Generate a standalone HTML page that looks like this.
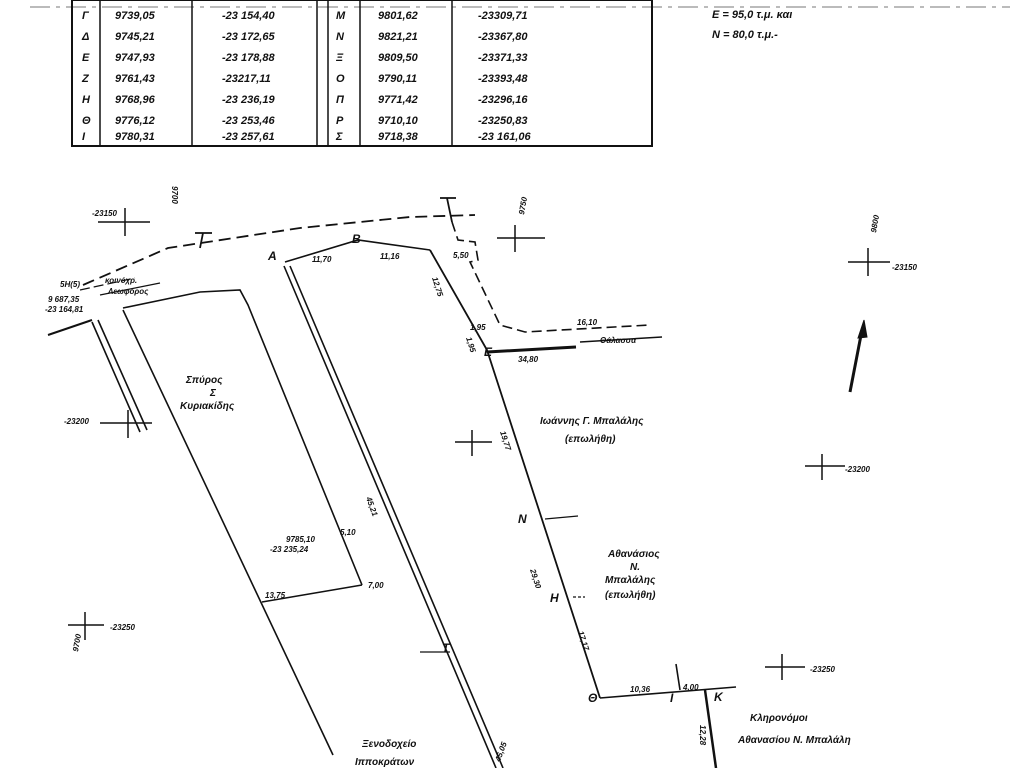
<!DOCTYPE html>
<html><head><meta charset="utf-8"><style>
html,body{margin:0;padding:0;background:#fff}
svg{display:block}
text{font-family:"Liberation Sans","DejaVu Sans",sans-serif;font-style:italic;fill:#111}
.t{font-size:11px;font-weight:bold}
.s{font-size:8px;font-weight:bold}
</style></head><body>
<svg width="1024" height="768" viewBox="0 0 1024 768" xmlns="http://www.w3.org/2000/svg">
<g stroke="#111" fill="none">
<!-- top header dashed -->
<line x1="30" y1="7" x2="1010" y2="7" stroke-width="1" stroke-dasharray="20,6,4,6" stroke="#777"/>
<!-- table -->
<rect x="72" y="0" width="580" height="146" stroke-width="2"/>
<line x1="100" y1="0" x2="100" y2="146" stroke-width="1.5"/>
<line x1="192" y1="0" x2="192" y2="146" stroke-width="1.5"/>
<line x1="317" y1="0" x2="317" y2="146" stroke-width="1.5"/>
<line x1="328" y1="0" x2="328" y2="146" stroke-width="1.5"/>
<line x1="360" y1="0" x2="360" y2="146" stroke-width="1.5"/>
<line x1="452" y1="0" x2="452" y2="146" stroke-width="1.5"/>

<!-- crosses -->
<g stroke-width="1.5">
<path d="M98 222 H150 M125 208 V236"/>
<path d="M497 238 H545 M515 225 V252"/>
<path d="M848 262 H890 M868 248 V276"/>
<path d="M100 423 H152 M128 410 V438"/>
<path d="M455 442 H492 M472 430 V456"/>
<path d="M805 466 H845 M822 454 V480"/>
<path d="M68 625 H104 M85 612 V640"/>
<path d="M765 667 H805 M782 654 V680"/>
</g>

<!-- dashed road boundary -->
<polyline points="83,285 168,248 300,228 410,217 475,215" stroke-width="1.8" stroke-dasharray="12,6"/>
<line x1="80" y1="290" x2="135" y2="278" stroke-width="1.2" stroke-dasharray="10,4"/>
<line x1="100" y1="295" x2="160" y2="283" stroke-width="1.2"/>
<!-- T markers -->
<path d="M195 233 H212 M203 233 L200 248" stroke-width="1.8"/>
<path d="M440 198 H456 M447 198 L452 222" stroke-width="1.8"/>

<!-- A-B-spo -->
<polyline points="285,262 358,240 430,250" stroke-width="1.6"/>
<!-- right boundary -->
<polyline points="430,250 487,350 600,698" stroke-width="1.8"/>
<!-- road to sea, dashed -->
<polyline points="452,222 458,240 475,242 478,260 470,262 500,325 525,332 650,325" stroke-width="1.6" stroke-dasharray="10,5"/>
<line x1="580" y1="342" x2="662" y2="337" stroke-width="1.5"/>
<line x1="487" y1="352" x2="576" y2="347" stroke-width="3"/>
<!-- bottom Θ-Ι-Κ -->
<polyline points="600,698 736,687" stroke-width="1.6"/>
<line x1="676" y1="664" x2="680" y2="690" stroke-width="1.6"/>
<line x1="705" y1="690" x2="716" y2="768" stroke-width="2.5"/>
<!-- small arrow ticks -->
<line x1="545" y1="519" x2="578" y2="516" stroke-width="1.2"/>
<line x1="573" y1="597" x2="585" y2="597" stroke-width="1.2" stroke-dasharray="3,2"/>

<!-- double line from A -->
<line x1="284" y1="266" x2="496" y2="768" stroke-width="1.6"/>
<line x1="290" y1="266" x2="503" y2="768" stroke-width="1.6"/>
<line x1="420" y1="652" x2="450" y2="652" stroke-width="1.2"/>
<!-- Spyros parcel -->
<polyline points="123,308 200,292 240,290 248,305 362,585" stroke-width="1.6"/>
<line x1="123" y1="310" x2="333" y2="755" stroke-width="1.6"/>
<polyline points="262,602 362,585" stroke-width="1.4"/>
<!-- far left double -->
<line x1="92" y1="322" x2="140" y2="432" stroke-width="1.6"/>
<line x1="98" y1="320" x2="147" y2="430" stroke-width="1.6"/>
<line x1="48" y1="335" x2="92" y2="320" stroke-width="2"/>
<!-- north arrow -->
<line x1="862" y1="330" x2="850" y2="392" stroke-width="3"/>
<path d="M864 320 L858 338 L867 337 Z" fill="#111"/>
</g>

<!-- table text -->
<g class="t">
<text x="82" y="19">Γ</text><text x="115" y="19">9739,05</text><text x="222" y="19">-23 154,40</text>
<text x="82" y="40">Δ</text><text x="115" y="40">9745,21</text><text x="222" y="40">-23 172,65</text>
<text x="82" y="61">Ε</text><text x="115" y="61">9747,93</text><text x="222" y="61">-23 178,88</text>
<text x="82" y="82">Ζ</text><text x="115" y="82">9761,43</text><text x="222" y="82">-23217,11</text>
<text x="82" y="103">Η</text><text x="115" y="103">9768,96</text><text x="222" y="103">-23 236,19</text>
<text x="82" y="124">Θ</text><text x="115" y="124">9776,12</text><text x="222" y="124">-23 253,46</text>
<text x="82" y="140">Ι</text><text x="115" y="140">9780,31</text><text x="222" y="140">-23 257,61</text>
<text x="336" y="19">Μ</text><text x="378" y="19">9801,62</text><text x="478" y="19">-23309,71</text>
<text x="336" y="40">Ν</text><text x="378" y="40">9821,21</text><text x="478" y="40">-23367,80</text>
<text x="336" y="61">Ξ</text><text x="378" y="61">9809,50</text><text x="478" y="61">-23371,33</text>
<text x="336" y="82">Ο</text><text x="378" y="82">9790,11</text><text x="478" y="82">-23393,48</text>
<text x="336" y="103">Π</text><text x="378" y="103">9771,42</text><text x="478" y="103">-23296,16</text>
<text x="336" y="124">Ρ</text><text x="378" y="124">9710,10</text><text x="478" y="124">-23250,83</text>
<text x="336" y="140">Σ</text><text x="378" y="140">9718,38</text><text x="478" y="140">-23 161,06</text>
<text x="712" y="18">Ε = 95,0 τ.μ. και</text>
<text x="712" y="38">Ν = 80,0 τ.μ.-</text>
</g>

<!-- drawing labels -->
<g class="s">
<text x="92" y="216">-23150</text>
<text x="892" y="270">-23150</text>
<text x="64" y="424">-23200</text>
<text x="845" y="472">-23200</text>
<text x="110" y="630">-23250</text>
<text x="810" y="672">-23250</text>
<text x="60" y="287">5Η(5)</text>
<text x="48" y="302">9 687,35</text>
<text x="45" y="312">-23 164,81</text>
<text x="105" y="283">κοινόχρ.</text>
<text x="108" y="294">Λεωφόρος</text>
<text x="312" y="262">11,70</text>
<text x="380" y="259">11,16</text>
<text x="453" y="258">5,50</text>
<text x="470" y="330">1,95</text>
<text x="577" y="325">16,10</text>
<text x="600" y="343">Θάλασσα</text>
<text x="518" y="362">34,80</text>
<text x="265" y="598">13,75</text>
<text x="368" y="588">7,00</text>
<text x="286" y="542">9785,10</text>
<text x="270" y="552">-23 235,24</text>
<text x="340" y="535">5,10</text>
<text x="630" y="692">10,36</text>
<text x="683" y="690">4,00</text>
</g>
<g style="font-size:12px;font-weight:bold">
<text x="268" y="260">Α</text>
<text x="352" y="243">Β</text>
<text x="484" y="356">Ε</text>
<text x="518" y="523">Ν</text>
<text x="550" y="602">Η</text>
<text x="588" y="702">Θ</text>
<text x="670" y="702">Ι</text>
<text x="714" y="701">Κ</text>
<text x="442" y="652">Τ</text>
</g>
<g style="font-size:10px;font-weight:bold">
<text x="186" y="383">Σπύρος</text>
<text x="210" y="396">Σ</text>
<text x="180" y="409">Κυριακίδης</text>
<text x="540" y="424">Ιωάννης Γ. Μπαλάλης</text>
<text x="565" y="442">(επωλήθη)</text>
<text x="608" y="557">Αθανάσιος</text>
<text x="630" y="570">Ν.</text>
<text x="605" y="583">Μπαλάλης</text>
<text x="605" y="598">(επωλήθη)</text>
<text x="750" y="721">Κληρονόμοι</text>
<text x="738" y="743">Αθανασίου Ν. Μπαλάλη</text>
<text x="362" y="747">Ξενοδοχείο</text>
<text x="355" y="765">Ιπποκράτων</text>
</g>
<g class="s">
<text transform="translate(500,762) rotate(-70)">45,05</text>
<text transform="translate(530,570) rotate(72)">29,30</text>
<text transform="translate(578,632) rotate(72)">17,17</text>
<text transform="translate(500,432) rotate(72)">19,77</text>
<text transform="translate(432,278) rotate(72)">12,75</text>
<text transform="translate(466,338) rotate(72)">1,95</text>
<text transform="translate(366,498) rotate(70)">45,21</text>
<text transform="translate(700,725) rotate(90)">12,28</text>
<text transform="translate(172,186) rotate(90)">9700</text>
<text transform="translate(524,215) rotate(-80)">9750</text>
<text transform="translate(876,233) rotate(-80)">9800</text>
<text transform="translate(78,652) rotate(-80)">9700</text>
</g>
</svg>
</body></html>
